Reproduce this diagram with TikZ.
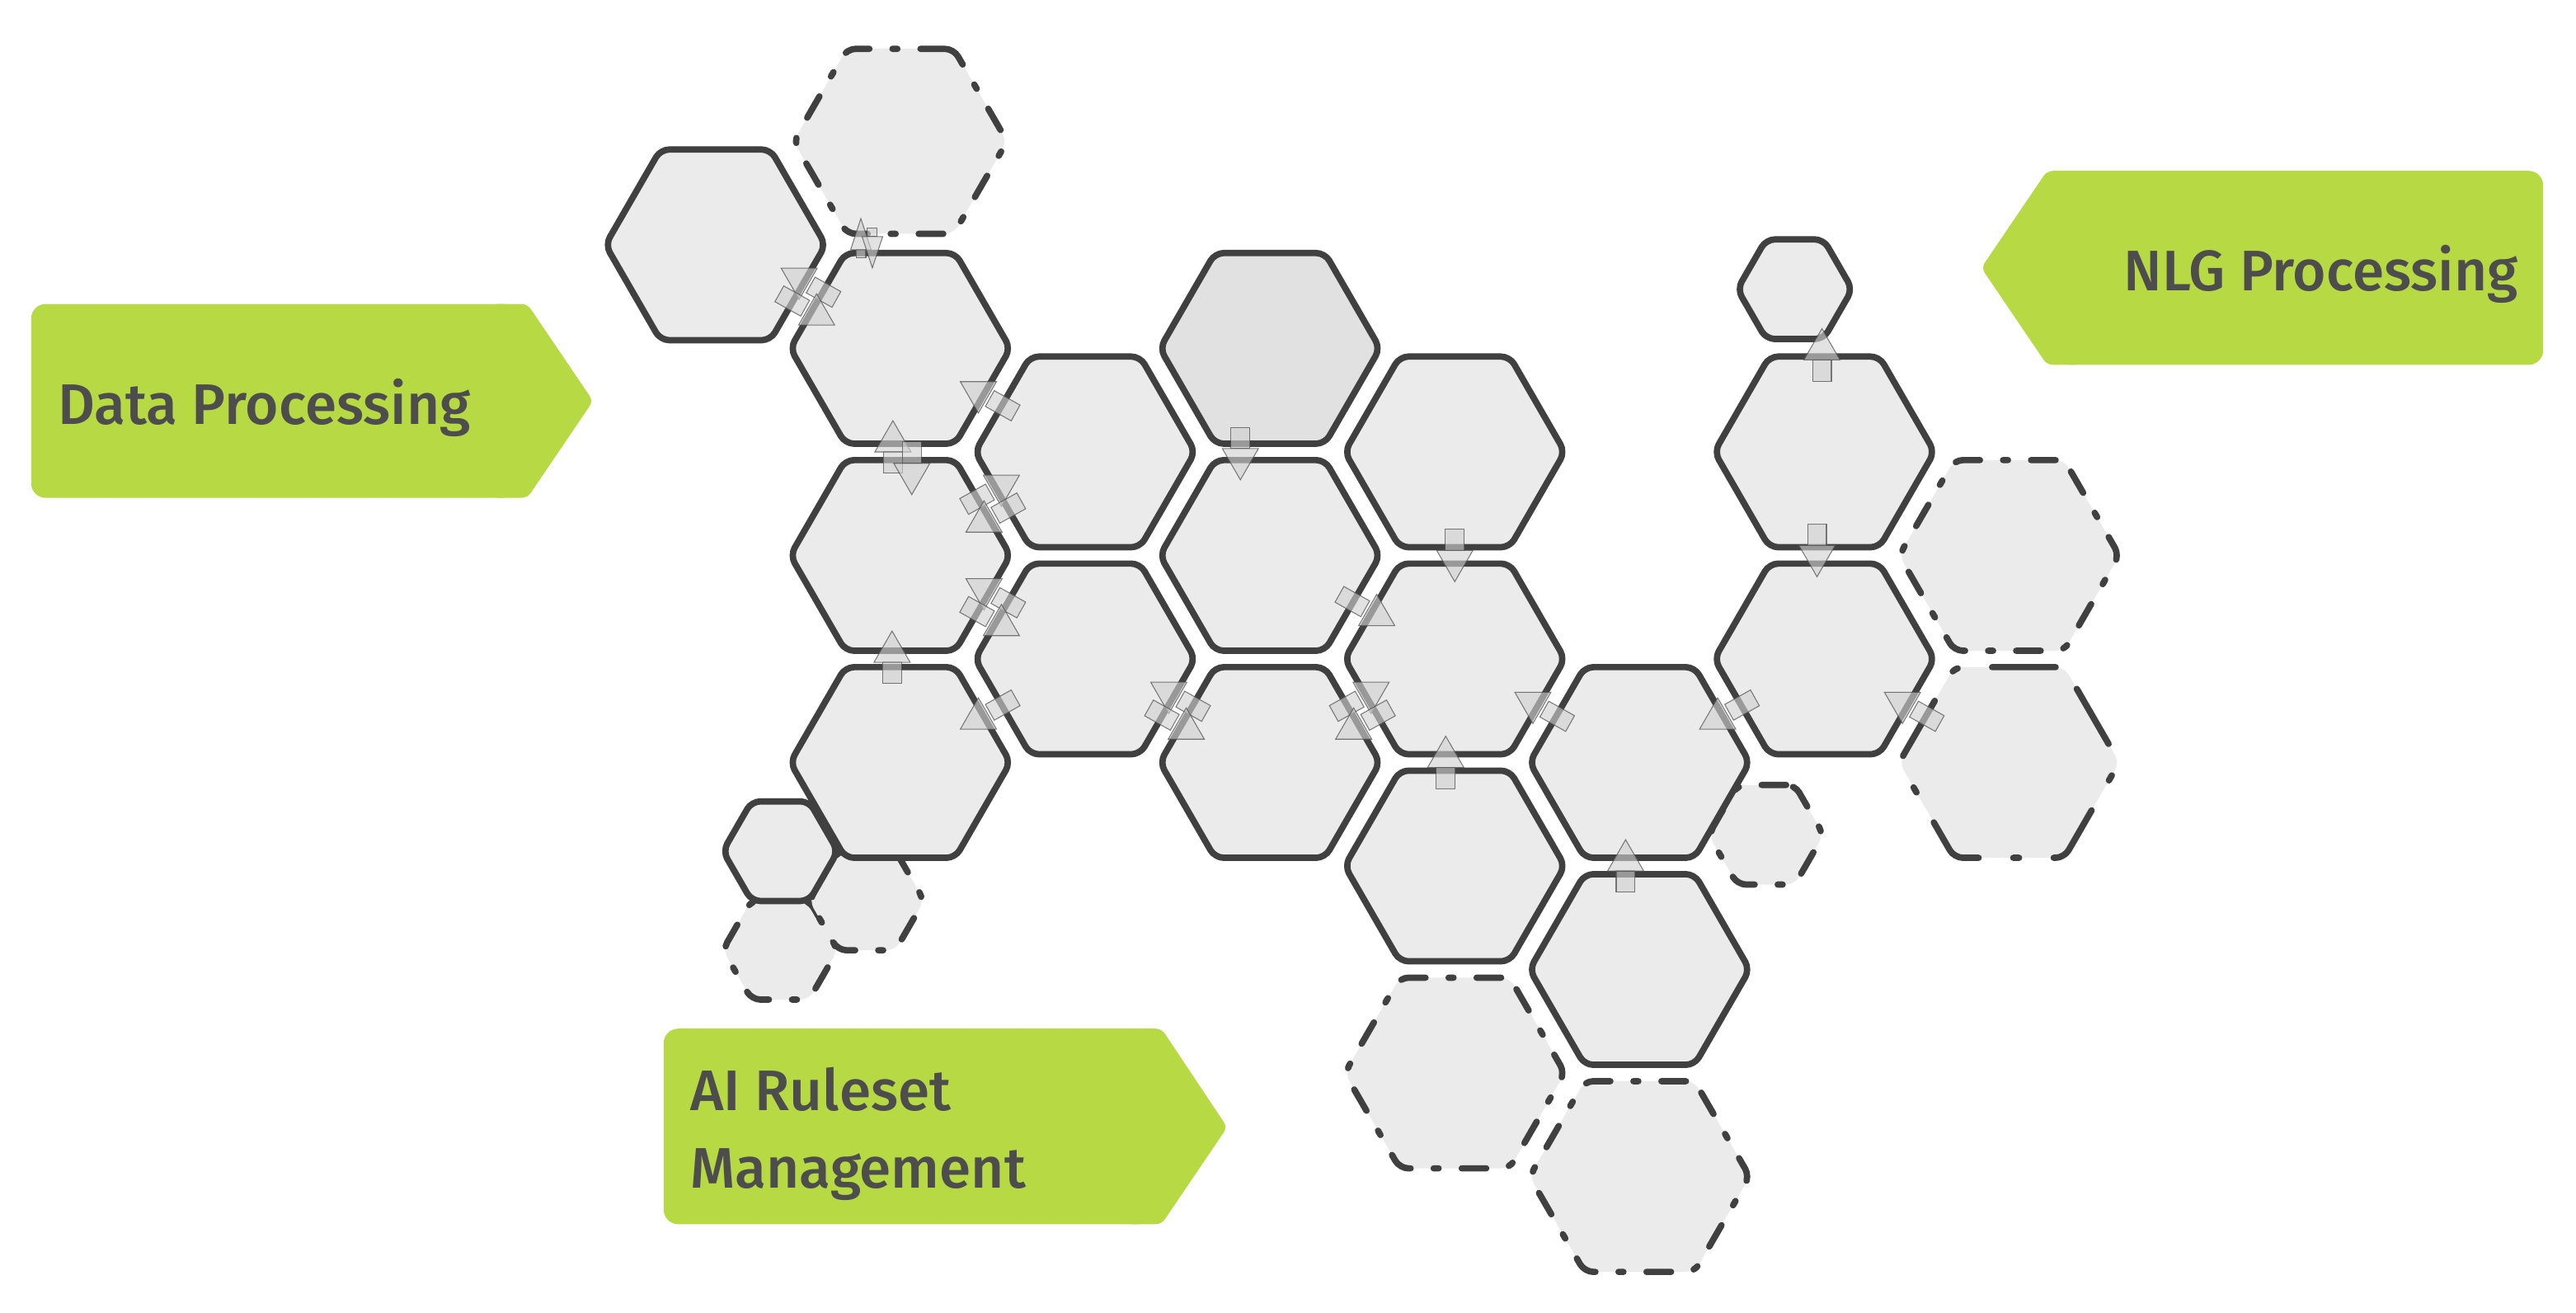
\documentclass[tikz,border=0pt]{standalone}
\usepackage{fontspec}
\newfontfamily\lblfont{Fira Sans Medium}
\usetikzlibrary{shapes.geometric,calc}
\definecolor{hexline}{HTML}{404040}
\definecolor{hexfill}{HTML}{EBEBEB}
\definecolor{hexfilldark}{HTML}{E1E1E1}
\definecolor{lblgreen}{HTML}{B6D944}
\definecolor{lbltext}{HTML}{4D4D4D}
\definecolor{arrfill}{HTML}{D0D0D0}
\definecolor{arrline}{HTML}{505050}
\tikzset{
  hexbase/.style={regular polygon, regular polygon sides=6, minimum size=2.68cm,
    inner sep=0pt, outer sep=0pt, line width=2.2pt, draw=hexline, fill=hexfill,
    rounded corners=3pt, line join=round},
  dashhex/.style={hexbase, dash pattern=on 8.5pt off 8pt on 1.7pt off 8pt, line cap=round},
  dashhexv/.style={hexbase, dash pattern=on 22pt off 12pt on 2pt off 12pt, line cap=round},
  smallhex/.style={minimum size=1.4cm},
  arrpart/.style={fill=arrfill, fill opacity=0.62, draw=arrline, draw opacity=0.75,
    line width=0.3pt, inner sep=0pt, outer sep=0pt},
  arrbox/.style={arrpart, rectangle, minimum width=0.36cm, minimum height=0.22cm},
  arrtri/.style={arrpart, regular polygon, regular polygon sides=3, minimum size=0.508cm},
  vshaft/.style={arrpart, rectangle, minimum width=0.23cm, minimum height=0.26cm},
  lblbox/.style={fill=lblgreen, rounded corners=5pt},
  lbltip/.style={fill=lblgreen, rounded corners=2pt},
  lbltxt/.style={font=\lblfont\fontsize{19.8pt}{24pt}\selectfont, text=lbltext, inner sep=0pt}
}
% diagonal arrow: name, from, to, perpendicular shift, head rotation
\newcommand\darrow[5]{%
  \path let \p1=(#2.center), \p2=(#3.center), \n1={atan2(\y2-\y1,\x2-\x1)} in
    node[arrbox, rotate=\n1] (#1s) at ($(\p1)!0.5!(\p2)+(\n1+90:#4)+(\n1:-7)$) {}
    node[arrtri, rotate=#5] (#1h) at ($(\p1)!0.5!(\p2)+(\n1+90:#4)+(\n1:10)$) {};
}
\newcommand\vup[2]{%
  \coordinate (#1) at #2;
  \node[vshaft] (#1s) at ($(#1)+(0,-9.5)$) {};
  \node[arrtri] (#1h) at ($(#1)+(0,3.3)$) {};
}
\newcommand\vdown[2]{%
  \coordinate (#1) at #2;
  \node[vshaft] (#1s) at ($(#1)+(0,9.5)$) {};
  \node[arrtri, rotate=180] (#1h) at ($(#1)+(0,-3.3)$) {};
}
\newcommand\vupsmall[2]{%
  \coordinate (#1) at #2;
  \draw[arrpart] ($(#1)+(-3,-12)$) rectangle ($(#1)+(3,-7)$);
  \draw[arrpart] ($(#1)+(-6.25,-7)$) -- ($(#1)+(6.25,-7)$) -- ($(#1)+(0,12)$) -- cycle;
}
\newcommand\vdownsmall[2]{%
  \coordinate (#1) at #2;
  \draw[arrpart] ($(#1)+(-3,12)$) rectangle ($(#1)+(3,7)$);
  \draw[arrpart] ($(#1)+(-6.25,7)$) -- ($(#1)+(6.25,7)$) -- ($(#1)+(0,-12)$) -- cycle;
}
\begin{document}
\begin{tikzpicture}[x=0.02cm, y=0.02cm]
\useasboundingbox (0,0) rectangle (1568,-799);

% labels
\fill[lblbox] (19,-185) rectangle (315,-303);
\fill[lbltip] (300,-185) -- (321,-185) -- (361,-244) -- (321,-303) -- (300,-303) -- cycle;
\node[lbltxt, anchor=base west] (dp) at (35,-258) {Data Processing};
\fill[lblbox] (1252,-104) rectangle (1548,-222);
\fill[lbltip] (1266,-104) -- (1246,-104) -- (1206,-163) -- (1246,-222) -- (1266,-222) -- cycle;
\node[lbltxt, anchor=base east] (nlg) at (1533,-177) {NLG Processing};
\fill[lblbox] (404,-626) rectangle (701,-745);
\fill[lbltip] (686,-626) -- (707,-626) -- (747,-686) -- (707,-745) -- (686,-745) -- cycle;
\node[lbltxt, anchor=base west] (ai1) at (420,-676) {AI Ruleset};
\node[lbltxt, anchor=base west] (ai2) at (420,-723) {Management};

% dashed hexagons
\node[dashhex, minimum size=2.6cm] (B) at (548,-86) {};
\node[dashhex] (P) at (885.5,-653) {};
\node[dashhex] (Q) at (998,-716) {};
\node[dashhex] (U) at (1223,-338) {};
\node[dashhexv] (V) at (1223,-464) {};
\node[dashhex, smallhex] (W) at (1075,-508) {};
\node[dashhex, smallhex] (X2) at (475,-578) {};
\node[dashhex, smallhex] (X3) at (527.5,-548) {};

% solid hexagons
\node[hexbase] (A) at (435.5,-149) {};
\node[hexbase] (C) at (548,-212) {};
\node[hexbase] (D) at (660.5,-275) {};
\node[hexbase, fill=hexfilldark] (E) at (773,-212) {};
\node[hexbase] (F) at (885.5,-275) {};
\node[hexbase] (G) at (548,-338) {};
\node[hexbase] (H) at (773,-338) {};
\node[hexbase] (I) at (660.5,-401) {};
\node[hexbase] (J) at (885.5,-401) {};
\node[hexbase] (K) at (548,-464) {};
\node[hexbase] (L) at (773,-464) {};
\node[hexbase] (M) at (885.5,-527) {};
\node[hexbase] (N) at (998,-464) {};
\node[hexbase] (O) at (998,-590) {};
\node[hexbase] (R) at (1110.5,-275) {};
\node[hexbase] (T) at (1110.5,-401) {};
\node[hexbase, smallhex] (S) at (1092.5,-176) {};
\node[hexbase, smallhex] (X1) at (475,-518) {};

% diagonal arrows
\darrow{aCA}{C}{A}{-7}{180}
\darrow{aAC}{A}{C}{-7}{0}
\darrow{aDC}{D}{C}{0}{180}
\darrow{aGD}{G}{D}{7}{180}
\darrow{aDG}{D}{G}{7}{0}
\darrow{aIG}{I}{G}{-7}{180}
\darrow{aGI}{G}{I}{-7}{0}
\darrow{aIK}{I}{K}{0}{0}
\darrow{aLI}{L}{I}{-7}{180}
\darrow{aIL}{I}{L}{-7}{0}
\darrow{aHJ}{H}{J}{0}{0}
\darrow{aLJ}{L}{J}{7}{180}
\darrow{aJL}{J}{L}{7}{0}
\darrow{aNJ}{N}{J}{0}{180}
\darrow{aTN}{T}{N}{0}{0}
\darrow{aVT}{V}{T}{0}{180}

% vertical arrows
\vupsmall{vCB}{($(B)!0.5!(C)+(-24,4)$)}
\vdownsmall{vBC}{($(B)!0.5!(C)+(-17,-2)$)}
\vup{vGC}{($(C)!0.5!(G)+(-4.5,3)$)}
\vdown{vCG}{($(C)!0.5!(G)+(7,-10)$)}
\vdown{vEH}{($(E)!0.5!(H)+(-18,-1)$)}
\vdown{vFJ}{($(F)!0.5!(J)$)}
\vup{vMJ}{($(M)!0.5!(J)+(-5.5,0)$)}
\vup{vON}{($(O)!0.5!(N)+(-8.5,0)$)}
\vup{vKG}{($(K)!0.5!(G)+(-5,1)$)}
\vup{vRS}{($(R)!0.5!(S)+(7.5,9.5)$)}
\vdown{vRT}{($(R)!0.5!(T)+(-4.5,3)$)}
\end{tikzpicture}
\end{document}
